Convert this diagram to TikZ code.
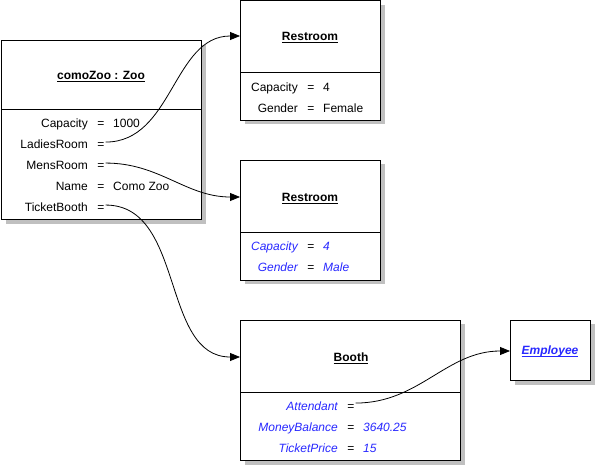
\documentclass[tikz,border=0pt]{standalone}
\usepackage{fontspec}
\setmainfont{Liberation Sans}
\usetikzlibrary{arrows.meta,shadows}
\definecolor{attrblue}{RGB}{40,40,255}
\definecolor{shadowgrey}{RGB}{192,192,192}
\newsavebox{\myulbox}
\newcommand{\myul}[1]{\leavevmode\sbox{\myulbox}{#1}\rlap{\usebox{\myulbox}}\rule[-1.8pt]{\wd\myulbox}{0.9pt}}
\begin{document}
\begin{tikzpicture}[x=1pt,y=-1pt,
  font=\fontsize{12pt}{14pt}\selectfont,
  objbox/.style={draw=black, line width=1pt, fill=white, anchor=north west, inner sep=0pt,
    drop shadow={shadow xshift=4pt, shadow yshift=-4pt, fill=shadowgrey, opacity=1}},
  divider/.style={draw=black, line width=1pt},
  ttl/.style={anchor=base, inner sep=0pt, font=\fontsize{12pt}{14pt}\selectfont\bfseries},
  aname/.style={anchor=base east, inner sep=0pt},
  aeq/.style={anchor=base, inner sep=0pt},
  aval/.style={anchor=base west, inner sep=0pt},
  blueattr/.style={text=attrblue, font=\fontsize{12pt}{14pt}\selectfont\itshape},
  link/.style={draw=black, line width=0.8pt, -{Triangle[length=10pt,width=8pt]}, out=0, in=180}
]
\useasboundingbox (0,0) rectangle (595,465);

% ---------- comoZoo : Zoo ----------
\node[objbox, minimum width=200pt, minimum height=179pt] (zoo) at (1,40.5) {};
\draw[divider] (zoo.west |- 0,110) -- (zoo.east |- 0,110);
\node[ttl] (zootitle) at (101,80) {\myul{comoZoo : Zoo}};
\node[aname] (zn1) at (88,128) {Capacity};
\node[aeq] (ze1) at (101,128) {=};
\node[aval] (zv1) at (113,128) {1000};
\node[aname] (zn2) at (88,149) {LadiesRoom};
\node[aeq] (ze2) at (101,149) {=};
\node[aname] (zn3) at (88,170) {MensRoom};
\node[aeq] (ze3) at (101,170) {=};
\node[aname] (zn4) at (88,191) {Name};
\node[aeq] (ze4) at (101,191) {=};
\node[aval] (zv4) at (113,191) {Como Zoo};
\node[aname] (zn5) at (88,212) {TicketBooth};
\node[aeq] (ze5) at (101,212) {=};

% ---------- Restroom (Female) ----------
\node[objbox, minimum width=140pt, minimum height=119.5pt] (r1) at (240,0.5) {};
\draw[divider] (r1.west |- 0,73) -- (r1.east |- 0,73);
\node[ttl] (r1title) at (310,41) {\myul{Restroom}};
\node[aname] (r1n1) at (298,92) {Capacity};
\node[aeq] (r1e1) at (311,92) {=};
\node[aval] (r1v1) at (323,92) {4};
\node[aname] (r1n2) at (298,113) {Gender};
\node[aeq] (r1e2) at (311,113) {=};
\node[aval] (r1v2) at (323,113) {Female};

% ---------- Restroom (Male) ----------
\node[objbox, minimum width=140pt, minimum height=120pt] (r2) at (240,160) {};
\draw[divider] (r2.west |- 0,233) -- (r2.east |- 0,233);
\node[ttl] (r2title) at (310,202) {\myul{Restroom}};
\node[aname, blueattr] (r2n1) at (298,251) {Capacity};
\node[aeq] (r2e1) at (311,251) {=};
\node[aval, blueattr] (r2v1) at (323,251) {4};
\node[aname, blueattr] (r2n2) at (298,272) {Gender};
\node[aeq] (r2e2) at (311,272) {=};
\node[aval, blueattr] (r2v2) at (323,272) {Male};

% ---------- Booth ----------
\node[objbox, minimum width=220pt, minimum height=140pt] (booth) at (240,320) {};
\draw[divider] (booth.west |- 0,392) -- (booth.east |- 0,392);
\node[ttl] (btitle) at (351,362) {\myul{Booth}};
\node[aname, blueattr] (bn1) at (338,410) {Attendant};
\node[aeq] (be1) at (351,410) {=};
\node[aname, blueattr] (bn2) at (338,431) {MoneyBalance};
\node[aeq] (be2) at (351,431) {=};
\node[aval, blueattr] (bv2) at (363,431) {3640.25};
\node[aname, blueattr] (bn3) at (338,452) {TicketPrice};
\node[aeq] (be3) at (351,452) {=};
\node[aval, blueattr] (bv3) at (363,452) {15};

% ---------- Employee ----------
\node[objbox, minimum width=80pt, minimum height=60pt] (emp) at (510,320) {};
\node[ttl, text=attrblue, font=\fontsize{12pt}{14pt}\selectfont\bfseries\itshape] (etitle) at (550,355) {\myul{Employee}};

% ---------- connectors ----------
\draw[link] (ze2.east) ++(1,-4) coordinate (c2) (c2) to (r1.west |- 0,36);
\draw[link] (ze3.east) ++(1,-4) coordinate (c3) (c3) to (r2.west |- 0,197);
\draw[link] (ze5.east) ++(1,-4) coordinate (c5) (c5) to (booth.west |- 0,357);
\draw[link] (be1.east) ++(1,-4) coordinate (ca) (ca) to (emp.west |- 0,351);
\end{tikzpicture}
\end{document}
